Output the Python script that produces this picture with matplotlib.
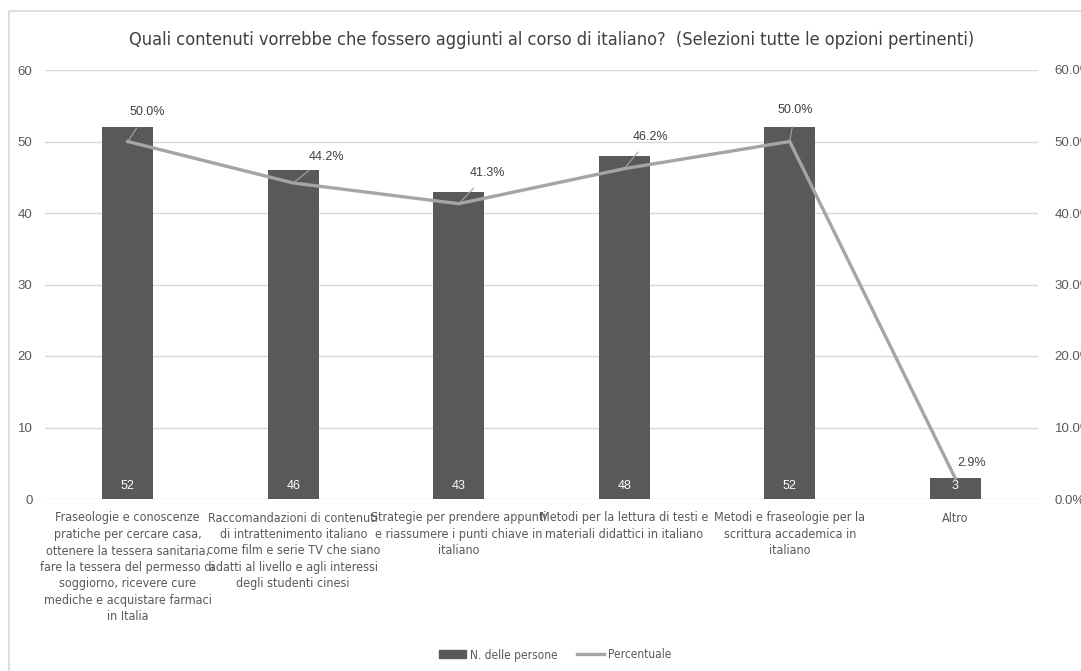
import matplotlib
matplotlib.use('Agg')
import matplotlib.pyplot as plt
from matplotlib.patches import Rectangle, Patch
from matplotlib.lines import Line2D
from matplotlib import font_manager as fm
import matplotlib.ticker as mticker

# data
categories = [
    'Fraseologie e conoscenze\npratiche per cercare casa,\nottenere la tessera sanitaria,\nfare la tessera del permesso di\nsoggiorno, ricevere cure\nmediche e acquistare farmaci\nin Italia',
    'Raccomandazioni di contenuti\ndi intrattenimento italiano\ncome film e serie TV che siano\nadatti al livello e agli interessi\ndegli studenti cinesi',
    'Strategie per prendere appunti\ne riassumere i punti chiave in\nitaliano',
    'Metodi per la lettura di testi e\nmateriali didattici in italiano',
    'Metodi e fraseologie per la\nscrittura accademica in\nitaliano',
    'Altro',
]
counts = [52, 46, 43, 48, 52, 3]
percents = [0.500, 0.442, 0.413, 0.462, 0.500, 0.029]
title = 'Quali contenuti vorrebbe che fossero aggiunti al corso di italiano?  (Selezioni tutte le opzioni pertinenti)'

# look for a narrow font, else use Liberation Sans a bit smaller
narrow = None
for f in fm.fontManager.ttflist:
    nm = (f.name + ' ' + f.fname).lower()
    if ('narrow' in nm or 'condensed' in nm) and 'bold' not in nm and 'italic' not in nm \
            and 'light' not in nm and 'oblique' not in nm:
        narrow = f.fname
        break

if narrow:
    def NF(size):
        return fm.FontProperties(fname=narrow, size=size)
    cat_size, title_size, leg_size = 9, 13.1, 8.6
else:
    def NF(size):
        return fm.FontProperties(family=['Liberation Sans', 'DejaVu Sans'], size=size)
    cat_size, title_size, leg_size = 8.2, 12, 8

REG = ['Liberation Sans', 'DejaVu Sans']
BAR_C = '#595959'
LINE_C = '#A5A5A5'
TXT_C = '#595959'
GRID_C = '#D9D9D9'

fig = plt.figure(figsize=(10.81, 6.71), dpi=100)
W, H = 1081, 671
ax = fig.add_axes([45 / W, 1 - 499 / H, (1038 - 45) / W, (499 - 70) / H])
ax2 = ax.twinx()

x = list(range(len(categories)))
ax.bar(x, counts, width=0.31, color=BAR_C, zorder=2)
ax.set_xlim(-0.5, len(categories) - 0.5)
ax.set_ylim(0, 60)
ax.set_yticks(range(0, 61, 10))
ax.grid(axis='y', color=GRID_C, lw=1, zorder=0)
ax.set_axisbelow(True)

ax2.plot(x, percents, color=LINE_C, lw=2.4, zorder=3)
ax2.set_ylim(0, 0.6)
ax2.set_yticks([i / 10 for i in range(7)])
ax2.yaxis.set_major_formatter(mticker.FuncFormatter(lambda v, p: f'{v*100:.1f}%'))

for a in (ax, ax2):
    for s in a.spines.values():
        s.set_visible(False)
ax.tick_params(axis='y', length=0, pad=9, labelcolor=TXT_C, labelsize=9.5)
ax2.tick_params(axis='y', length=0, pad=12, labelcolor=TXT_C, labelsize=9.5)
for lab in ax.get_yticklabels() + ax2.get_yticklabels():
    lab.set_family(REG)

ax.set_xticks(x)
ax.set_xticklabels(categories, fontproperties=NF(cat_size), color=TXT_C,
                   linespacing=1.35, va='top')
ax.tick_params(axis='x', length=0, pad=9)

# count labels inside bars
for i, v in enumerate(counts):
    ax.annotate(str(v), xy=(i, 0), xytext=(0, 9.5), textcoords='offset points',
                ha='center', va='center', color='white', fontsize=9, family=REG, zorder=4)

# percent labels with leader lines
offsets = [(14, 21), (24, 19), (21, 22), (19, 23), (4, 23), (12, 11)]
for i, p in enumerate(percents):
    ax2.annotate(f'{p*100:.1f}%', xy=(i, p), xytext=offsets[i], textcoords='offset points',
                 ha='center', va='center', color='#404040', fontsize=9, family=REG,
                 arrowprops=dict(arrowstyle='-', color=LINE_C, lw=0.8,
                                 shrinkA=6, shrinkB=0))

fig.text(552 / W, 1 - 40 / H, title, ha='center', va='center',
         color='#404040', fontproperties=NF(title_size))

handles = [Patch(facecolor=BAR_C, edgecolor=BAR_C),
           Line2D([], [], color=LINE_C, lw=2.4)]
fig.legend(handles, ['N. delle persone', 'Percentuale'], loc='center',
           bbox_to_anchor=(555 / W, 1 - 655 / H), ncol=2, frameon=False,
           prop=NF(leg_size), labelcolor=TXT_C,
           handlelength=2.3, handleheight=0.6, columnspacing=1.6, handletextpad=0.3)

fig.patches.append(Rectangle((9 / W, -0.05), 1.1, 1 - 11 / H + 0.05,
                             transform=fig.transFigure, fill=False,
                             edgecolor=GRID_C, lw=1.2))

fig.savefig('out.png', dpi=100)
